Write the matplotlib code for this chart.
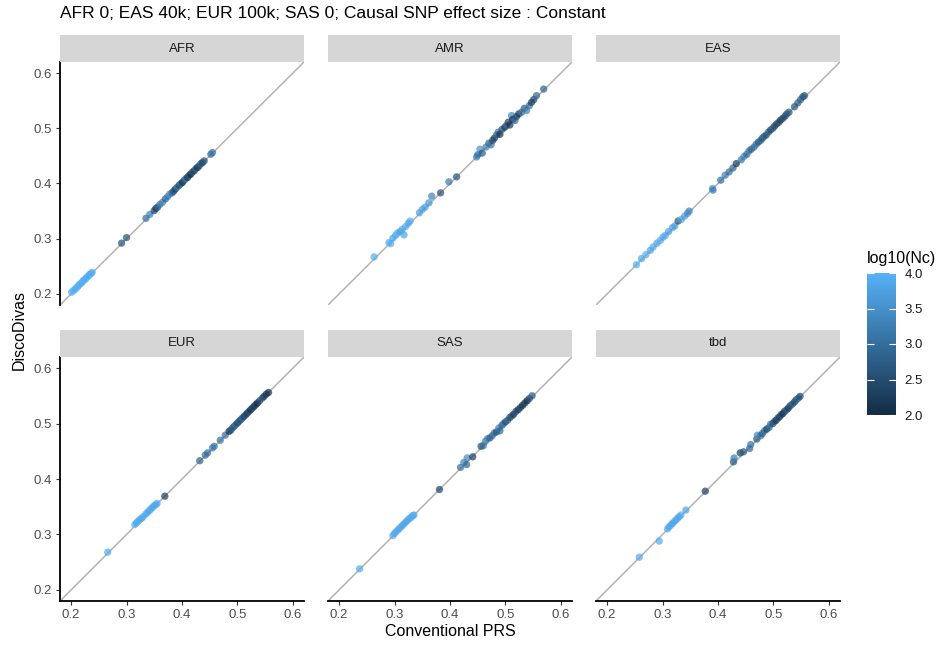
import matplotlib
matplotlib.use("Agg")
import matplotlib.pyplot as plt
from matplotlib.colors import LinearSegmentedColormap, Normalize
from matplotlib.cm import ScalarMappable

plt.rcParams['font.family'] = ['Liberation Sans', 'DejaVu Sans']

# ---- data ----
panels = ['AFR', 'AMR', 'EAS', 'EUR', 'SAS', 'tbd']

afr_x = [0.201, 0.204, 0.207, 0.209, 0.212, 0.214, 0.216, 0.219, 0.221, 0.223, 0.226, 0.228, 0.231, 0.233, 0.236, 0.238,
         0.291, 0.300, 0.335, 0.342, 0.350, 0.353, 0.356, 0.360, 0.365, 0.370, 0.374, 0.378, 0.382, 0.385, 0.388, 0.391,
         0.395, 0.398, 0.401, 0.404, 0.407, 0.410, 0.413, 0.416, 0.419, 0.422, 0.425, 0.428, 0.431, 0.434, 0.437, 0.440,
         0.452, 0.455]
afr_y = [0.203, 0.206, 0.208, 0.211, 0.213, 0.216, 0.218, 0.220, 0.223, 0.225, 0.227, 0.230, 0.232, 0.235, 0.237, 0.239,
         0.292, 0.302, 0.337, 0.344, 0.351, 0.355, 0.357, 0.362, 0.366, 0.372, 0.376, 0.381, 0.383, 0.386, 0.390, 0.393,
         0.397, 0.400, 0.402, 0.406, 0.409, 0.411, 0.415, 0.417, 0.421, 0.423, 0.427, 0.429, 0.432, 0.436, 0.438, 0.441,
         0.453, 0.456]
afr_nc = [4.0, 3.95, 4.0, 3.9, 4.0, 3.95, 4.0, 3.9, 3.95, 4.0, 3.9, 3.95, 4.0, 3.9, 3.95, 3.9,
          2.6, 2.6, 3.0, 3.3, 2.4, 2.2, 2.8, 3.1, 3.3, 2.9, 3.2, 3.4, 3.0, 2.5, 2.3, 3.1,
          2.4, 2.9, 2.1, 2.6, 3.2, 2.2, 2.5, 2.0, 2.7, 2.3, 2.9, 2.1, 2.5, 2.8, 2.4, 2.6,
          2.9, 3.1]

amr_x = [0.263, 0.290, 0.293, 0.297, 0.302, 0.305, 0.310, 0.314, 0.317, 0.320, 0.325, 0.328, 0.345, 0.350, 0.355, 0.362,
         0.367, 0.383, 0.398, 0.412, 0.448, 0.450, 0.454, 0.458, 0.465, 0.470, 0.474, 0.477, 0.480, 0.484, 0.487, 0.490,
         0.494, 0.499, 0.502, 0.505, 0.508, 0.511, 0.513, 0.517, 0.520, 0.524, 0.529, 0.534, 0.538, 0.543, 0.547, 0.551,
         0.556, 0.569]
amr_y = [0.267, 0.293, 0.291, 0.301, 0.306, 0.310, 0.313, 0.317, 0.307, 0.322, 0.328, 0.332, 0.347, 0.353, 0.357, 0.365,
         0.377, 0.383, 0.403, 0.412, 0.448, 0.452, 0.462, 0.455, 0.466, 0.473, 0.470, 0.478, 0.482, 0.488, 0.493, 0.489,
         0.498, 0.502, 0.505, 0.511, 0.506, 0.523, 0.516, 0.514, 0.521, 0.526, 0.529, 0.536, 0.532, 0.541, 0.547, 0.552,
         0.559, 0.571]
amr_nc = [3.9, 3.9, 4.0, 3.8, 3.9, 4.0, 3.7, 3.9, 3.8, 3.9, 3.8, 3.9, 3.7, 3.8, 3.7, 3.6,
          3.3, 2.5, 3.2, 2.6, 3.3, 3.0, 3.5, 2.7, 3.2, 2.9, 3.1, 2.5, 2.3, 2.8, 3.2, 2.1,
          2.6, 2.2, 2.9, 2.4, 2.2, 3.4, 2.0, 3.0, 2.5, 2.2, 3.0, 2.7, 3.3, 3.0, 2.3, 2.4,
          2.9, 2.8]

eas_x = [0.253, 0.262, 0.270, 0.278, 0.283, 0.290, 0.296, 0.301, 0.305, 0.311, 0.318, 0.322, 0.328, 0.334, 0.340, 0.345,
         0.348, 0.390, 0.391, 0.405, 0.413, 0.420, 0.427, 0.433, 0.442, 0.447, 0.452, 0.456, 0.460, 0.465, 0.469, 0.473,
         0.477, 0.480, 0.483, 0.487, 0.491, 0.495, 0.499, 0.502, 0.506, 0.510, 0.513, 0.517, 0.521, 0.524, 0.528, 0.538,
         0.544, 0.549, 0.553, 0.556]
eas_y = [0.253, 0.264, 0.271, 0.279, 0.285, 0.292, 0.297, 0.303, 0.306, 0.313, 0.320, 0.323, 0.332, 0.335, 0.341, 0.346,
         0.350, 0.391, 0.388, 0.406, 0.415, 0.421, 0.428, 0.436, 0.443, 0.449, 0.453, 0.459, 0.462, 0.466, 0.471, 0.475,
         0.478, 0.482, 0.485, 0.488, 0.493, 0.497, 0.500, 0.504, 0.508, 0.511, 0.515, 0.518, 0.522, 0.526, 0.529, 0.539,
         0.546, 0.552, 0.557, 0.559]
eas_nc = [3.9, 3.8, 3.9, 3.8, 3.9, 3.8, 3.9, 3.8, 3.9, 3.7, 3.8, 3.7, 2.6, 3.8, 3.7, 3.5,
          3.3, 3.6, 3.2, 3.0, 3.2, 3.0, 2.9, 2.2, 3.1, 3.3, 2.9, 3.2, 2.8, 3.0, 3.1, 2.7,
          2.9, 2.6, 2.9, 2.5, 2.8, 2.4, 2.7, 2.5, 2.3, 2.6, 2.2, 2.5, 2.4, 2.6, 2.7, 2.6,
          2.7, 2.8, 2.6, 2.7]

eur_x = [0.266, 0.315, 0.318, 0.321, 0.324, 0.327, 0.330, 0.335, 0.338, 0.341, 0.344, 0.347, 0.350, 0.353, 0.355,
         0.369, 0.432, 0.442, 0.446, 0.455, 0.458, 0.469, 0.478, 0.485, 0.488, 0.491, 0.494, 0.497, 0.500, 0.503, 0.506,
         0.509, 0.512, 0.515, 0.518, 0.521, 0.524, 0.527, 0.530, 0.533, 0.536, 0.540, 0.545, 0.548, 0.552, 0.556]
eur_y = [0.268, 0.318, 0.321, 0.324, 0.327, 0.329, 0.332, 0.337, 0.340, 0.343, 0.346, 0.349, 0.352, 0.354, 0.356,
         0.369, 0.433, 0.443, 0.447, 0.456, 0.459, 0.470, 0.479, 0.486, 0.488, 0.492, 0.495, 0.498, 0.501, 0.504, 0.507,
         0.510, 0.513, 0.516, 0.519, 0.522, 0.525, 0.528, 0.531, 0.534, 0.537, 0.541, 0.546, 0.549, 0.553, 0.556]
eur_nc = [3.9, 3.9, 3.8, 3.9, 3.9, 3.8, 3.9, 3.8, 3.9, 3.8, 3.9, 3.8, 3.9, 3.8, 3.9,
          2.3, 2.8, 2.9, 3.0, 3.2, 3.1, 3.0, 3.0, 2.0, 2.5, 2.8, 2.6, 3.0, 2.4, 2.7, 2.5,
          2.9, 2.3, 2.6, 2.2, 2.5, 2.1, 2.4, 2.2, 2.3, 2.0, 2.4, 2.6, 2.3, 2.2, 2.1]

sas_x = [0.237, 0.297, 0.300, 0.303, 0.306, 0.309, 0.312, 0.315, 0.318, 0.321, 0.324, 0.327, 0.330, 0.333, 0.335,
         0.381, 0.419, 0.425, 0.431, 0.430, 0.441, 0.456, 0.460, 0.464, 0.468, 0.472, 0.476, 0.480, 0.484, 0.488, 0.490,
         0.494, 0.497, 0.500, 0.504, 0.508, 0.512, 0.515, 0.519, 0.523, 0.527, 0.531, 0.535, 0.539, 0.543, 0.548]
sas_y = [0.238, 0.298, 0.302, 0.305, 0.308, 0.311, 0.314, 0.317, 0.320, 0.323, 0.326, 0.329, 0.331, 0.334, 0.335,
         0.381, 0.421, 0.430, 0.438, 0.426, 0.440, 0.459, 0.460, 0.468, 0.473, 0.474, 0.478, 0.483, 0.485, 0.492, 0.487,
         0.497, 0.500, 0.503, 0.506, 0.511, 0.514, 0.517, 0.522, 0.525, 0.529, 0.533, 0.537, 0.541, 0.545, 0.550]
sas_nc = [3.9, 3.9, 3.8, 3.9, 3.9, 3.8, 3.9, 3.8, 3.9, 3.8, 3.9, 3.8, 3.9, 3.8, 3.9,
          2.4, 3.0, 3.3, 3.4, 2.9, 2.3, 2.5, 3.0, 3.2, 3.3, 2.8, 3.0, 3.1, 2.6, 3.3, 2.9,
          2.7, 3.2, 2.5, 2.9, 2.4, 2.6, 2.3, 2.5, 2.2, 2.4, 2.1, 2.3, 2.0, 2.5, 2.7]

tbd_x = [0.258, 0.294, 0.309, 0.312, 0.315, 0.318, 0.321, 0.324, 0.327, 0.330, 0.333, 0.342,
         0.377, 0.428, 0.429, 0.440, 0.446, 0.457, 0.459, 0.470, 0.471, 0.477, 0.480, 0.484, 0.488, 0.492, 0.495,
         0.499, 0.502, 0.505, 0.508, 0.511, 0.514, 0.517, 0.520, 0.524, 0.527, 0.530, 0.534, 0.538, 0.541, 0.545, 0.548]
tbd_y = [0.259, 0.288, 0.310, 0.314, 0.317, 0.320, 0.323, 0.326, 0.329, 0.332, 0.335, 0.344,
         0.378, 0.431, 0.438, 0.447, 0.449, 0.455, 0.462, 0.472, 0.479, 0.478, 0.482, 0.487, 0.490, 0.493, 0.499,
         0.500, 0.504, 0.506, 0.510, 0.512, 0.516, 0.518, 0.522, 0.525, 0.528, 0.532, 0.535, 0.539, 0.543, 0.546, 0.549]
tbd_nc = [3.9, 3.9, 3.9, 3.8, 3.9, 3.8, 3.9, 3.8, 3.9, 3.8, 3.9, 3.8,
          2.3, 2.6, 3.2, 2.3, 2.6, 2.9, 3.1, 2.6, 3.4, 3.1, 2.8, 3.0, 2.4, 2.9, 3.1,
          2.5, 2.7, 2.2, 2.6, 2.3, 2.5, 2.1, 2.4, 2.6, 2.3, 2.5, 2.7, 2.4, 2.6, 2.8, 2.5]

all_x = [afr_x, amr_x, eas_x, eur_x, sas_x, tbd_x]
all_y = [afr_y, amr_y, eas_y, eur_y, sas_y, tbd_y]
all_nc = [afr_nc, amr_nc, eas_nc, eur_nc, sas_nc, tbd_nc]

ticks = [0.2, 0.3, 0.4, 0.5, 0.6]
lims = (0.18, 0.62)

# ggplot default continuous gradient
cmap = LinearSegmentedColormap.from_list('gg', ['#132B43', '#56B1F7'])
norm = Normalize(vmin=2.0, vmax=4.0)

W, H = 944, 648
fig = plt.figure(figsize=(W / 100, H / 100), dpi=100)

def fbox(x0, y0, x1, y1):
    # pixel box (top-left origin) -> figure fraction
    return [x0 / W, 1 - y1 / H, (x1 - x0) / W, (y1 - y0) / H]

col_left = [60, 328, 596]
row_top = [(35, 62, 305), (330, 357, 601)]
pw = 244

for i, name in enumerate(panels):
    r, c = divmod(i, 3)
    s_top, p_top, p_bot = row_top[r]
    x0 = col_left[c]

    ax = fig.add_axes(fbox(x0, p_top, x0 + pw, p_bot))
    ax.axline((0.3, 0.3), slope=1, color='#B3B3B3', lw=1.1, zorder=1)
    ax.scatter(all_x[i], all_y[i], c=all_nc[i], cmap=cmap, norm=norm,
               s=28, alpha=0.7, linewidths=0, zorder=2)
    ax.set_xlim(lims)
    ax.set_ylim(lims)
    ax.set_xticks(ticks)
    ax.set_yticks(ticks)
    for sp in ax.spines.values():
        sp.set_visible(False)
    ax.tick_params(length=3, width=0.8, color='#333333', labelcolor='#4D4D4D', labelsize=9.5, pad=3)
    if c == 0:
        ax.spines['left'].set_visible(True)
        ax.spines['left'].set_linewidth(1.3)
    else:
        ax.tick_params(left=False, labelleft=False)
    if r == 1:
        ax.spines['bottom'].set_visible(True)
        ax.spines['bottom'].set_linewidth(1.3)
    else:
        ax.tick_params(bottom=False, labelbottom=False)

    sax = fig.add_axes(fbox(x0, s_top, x0 + pw, p_top))
    sax.set_facecolor('#D6D6D6')
    sax.set_xticks([])
    sax.set_yticks([])
    for sp in sax.spines.values():
        sp.set_visible(False)
    sax.text(0.5, 0.5, name, ha='center', va='center', fontsize=9.5, color='#1A1A1A',
             transform=sax.transAxes)

fig.text(60 / W, 1 - 14 / H, 'AFR 0; EAS 40k; EUR 100k; SAS 0; Causal SNP effect size : Constant',
         ha='left', va='center', fontsize=12.5, color='black')
fig.text(450 / W, 1 - 632 / H, 'Conventional PRS', ha='center', va='center', fontsize=11.5)
fig.text(19 / W, 1 - 330 / H, 'DiscoDivas', ha='center', va='center', rotation=90, fontsize=11.5)

# colour bar
cax = fig.add_axes(fbox(867, 273, 896, 415))
cb = fig.colorbar(ScalarMappable(norm=norm, cmap=cmap), cax=cax)
cb.outline.set_visible(False)
cb.set_ticks([2.0, 2.5, 3.0, 3.5, 4.0])
cb.ax.yaxis.set_major_formatter(matplotlib.ticker.FormatStrFormatter('%.1f'))
cax.tick_params(left=True, right=True, direction='in', length=5, width=0.8, color='white',
                labelcolor='#1A1A1A', labelsize=9.5, pad=6)
fig.text(867 / W, 1 - 259 / H, 'log10(Nc)', ha='left', va='center', fontsize=11.5)

fig.savefig('out.png', dpi=100)
